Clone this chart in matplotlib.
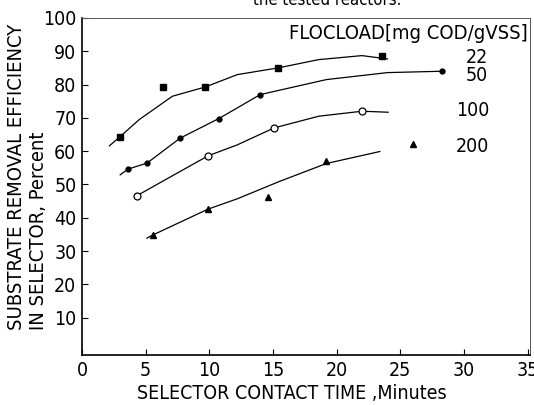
import matplotlib
matplotlib.use('Agg')
import matplotlib.pyplot as plt

plt.rcParams['font.family'] = ['DejaVu Sans']
plt.rcParams['font.stretch'] = 'condensed'

# measured points (time in minutes, efficiency in percent)
t_22 = [3.0, 6.35, 9.7, 15.4, 23.6]
eff_22 = [64.4, 79.3, 79.3, 85.0, 88.5]
t_50 = [3.6, 5.1, 7.7, 10.75, 14.0, 28.25]
eff_50 = [54.6, 56.4, 63.9, 69.8, 77.0, 84.0]
t_100 = [4.3, 9.9, 15.1, 22.0]
eff_100 = [46.6, 58.6, 67.0, 72.0]
t_200 = [5.6, 9.9, 14.6, 19.2, 26.0]
eff_200 = [34.9, 42.6, 46.1, 57.1, 62.1]

# hand-drawn fitted curves
curve_t_22 = [2.15, 3.0, 4.5, 7.1, 9.7, 12.2, 15.4, 18.6, 22.0, 24.0]
curve_e_22 = [61.6, 64.4, 69.5, 76.5, 79.3, 83.0, 85.0, 87.5, 88.7, 87.7]
curve_t_50 = [3.0, 3.6, 5.1, 7.7, 10.75, 12.2, 14.0, 19.2, 24.0, 28.25]
curve_e_50 = [52.9, 54.6, 56.4, 63.9, 69.8, 73.0, 77.0, 81.5, 83.6, 84.0]
curve_t_100 = [4.15, 4.3, 7.0, 9.9, 12.2, 15.1, 18.6, 22.0, 24.05]
curve_e_100 = [46.2, 46.6, 52.4, 58.6, 61.9, 67.0, 70.5, 72.0, 71.7]
curve_t_200 = [5.1, 5.6, 9.9, 12.2, 15.5, 19.2, 23.4]
curve_e_200 = [33.9, 34.9, 42.6, 45.7, 50.9, 56.3, 59.9]

floc_loads = ['22', '50', '100', '200']
x_ticks = [0, 5, 10, 15, 20, 25, 30, 35]
y_ticks = [10, 20, 30, 40, 50, 60, 70, 80, 90, 100]

fig = plt.figure(figsize=(5.34, 4.05), dpi=100)
ax = fig.add_axes([0.1536, 0.1235, 0.8390, 0.8321])

lw = 0.9
ax.plot(curve_t_22, curve_e_22, color='black', lw=lw)
ax.plot(curve_t_50, curve_e_50, color='black', lw=lw)
ax.plot(curve_t_100, curve_e_100, color='black', lw=lw)
ax.plot(curve_t_200, curve_e_200, color='black', lw=lw)

ax.plot(t_22, eff_22, 's', color='black', ms=4)
ax.plot(t_50, eff_50, 'o', color='black', ms=3.5)
ax.plot(t_100, eff_100, 'o', mfc='white', mec='black', mew=0.9, ms=5)
ax.plot(t_200, eff_200, '^', color='black', ms=4.5)

ax.set_xlim(0, 35.2)
ax.set_ylim(-1.2, 100)
ax.set_xticks(x_ticks)
ax.set_yticks(y_ticks)
ax.tick_params(direction='in', length=4, width=0.8, labelsize=14, pad=4)

for side in ['left', 'bottom']:
    ax.spines[side].set_linewidth(1.2)
for side in ['top', 'right']:
    ax.spines[side].set_linewidth(0.7)
    ax.spines[side].set_color('#555555')

ax.set_xlabel('SELECTOR CONTACT TIME ,Minutes', fontsize=14)
ax.xaxis.set_label_coords(0.469, -0.085)

# two-line y label, both lines starting at the same height
fig.text(0.030, 0.185, 'SUBSTRATE REMOVAL EFFICIENCY', rotation=90,
         fontsize=14.5, ha='center', va='bottom')
fig.text(0.073, 0.185, 'IN SELECTOR, Percent', rotation=90,
         fontsize=14.5, ha='center', va='bottom')

ax.text(0.995, 0.955, 'FLOCLOAD[mg COD/gVSS]', transform=ax.transAxes,
        fontsize=14.5, ha='right', va='center')
label_pos = [(31.0, 88.0), (31.0, 82.6), (30.7, 72.3), (30.7, 61.3)]
for lab, (lx, ly) in zip(floc_loads, label_pos):
    ax.text(lx, ly, lab, fontsize=14, ha='center', va='center')

# cut-off caption line at the very top of the scan
fig.text(0.473, 1.0 - 5 / 405, 'the tested reactors.', fontsize=12,
         ha='left', va='baseline')

fig.savefig('out.png', dpi=100)
